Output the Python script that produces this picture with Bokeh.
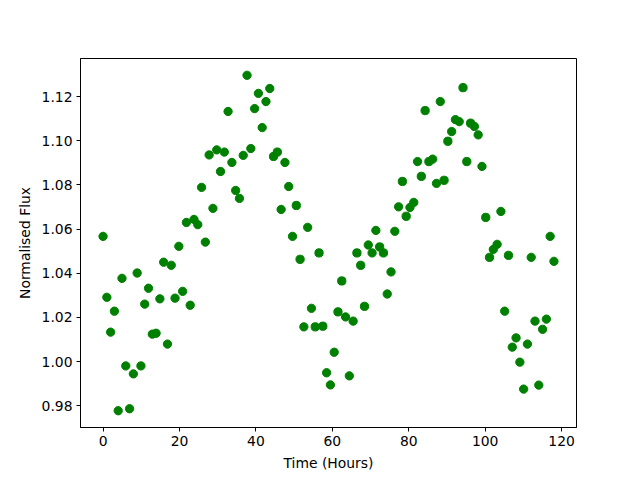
import numpy as np
from bokeh.plotting import figure
from bokeh.models import Range1d, FixedTicker, NumeralTickFormatter, ColumnDataSource
from bokeh.embed import file_html
from bokeh.resources import INLINE

# Time samples (hours): 120 evenly spaced observations from 0 to 118 h
hours = np.linspace(0, 118, 120)

flux = [
    1.0567, 1.0291, 1.0133, 1.0228, 0.9777, 1.0377, 0.9980, 0.9786, 0.9944, 1.0401,
    0.9980, 1.0260, 1.0332, 1.0124, 1.0128, 1.0284, 1.0450, 1.0079, 1.0436, 1.0287,
    1.0522, 1.0318, 1.0630, 1.0255, 1.0644, 1.0620, 1.0789, 1.0541, 1.0936, 1.0694,
    1.0959, 1.0861, 1.0949, 1.1133, 1.0902, 1.0775, 1.0739, 1.0934, 1.1297, 1.0965,
    1.1146, 1.1215, 1.1060, 1.1178, 1.1237, 1.0929, 1.0949, 1.0689, 1.0902, 1.0793,
    1.0567, 1.0707, 1.0463, 1.0157, 1.0608, 1.0241, 1.0157, 1.0492, 1.0160, 0.9949,
    0.9894, 1.0042, 1.0225, 1.0365, 1.0202, 0.9935, 1.0183, 1.0492, 1.0436, 1.0250,
    1.0528, 1.0492, 1.0594, 1.0519, 1.0492, 1.0306, 1.0406, 1.0590, 1.0701, 1.0816,
    1.0658, 1.0698, 1.0721, 1.0906, 1.0839, 1.1137, 1.0906, 1.0917, 1.0807, 1.1178,
    1.0821, 1.0998, 1.1042, 1.1096, 1.1087, 1.1241, 1.0906, 1.1080, 1.1065, 1.1027,
    1.0884, 1.0653, 1.0472, 1.0508, 1.0531, 1.0680, 1.0228, 1.0481, 1.0065, 1.0107,
    0.9997, 0.9875, 1.0079, 1.0472, 1.0183, 0.9893, 1.0146, 1.0192, 1.0567, 1.0454,
]

x_ticks = [0, 20, 40, 60, 80, 100, 120]
y_ticks = [0.98, 1.00, 1.02, 1.04, 1.06, 1.08, 1.10, 1.12]
x_label = "Time (Hours)"
y_label = "Normalised Flux"

src = ColumnDataSource(dict(t=list(hours), f=flux))

xmin, xmax = float(min(hours)), float(max(hours))
ymin, ymax = min(flux), max(flux)
xm = 0.05 * (xmax - xmin)
ym = 0.05 * (ymax - ymin)

p = figure(
    frame_width=496, frame_height=369,
    min_border_left=80, min_border_top=58, min_border_right=56, min_border_bottom=45,
    output_backend="svg", toolbar_location=None,
    x_range=Range1d(xmin - xm, xmax + xm), y_range=Range1d(ymin - ym, ymax + ym),
)

p.scatter("t", "f", source=src, size=8.3, fill_color="#008000", line_color="#008000")

p.xgrid.visible = False
p.ygrid.visible = False
p.outline_line_color = "black"
p.outline_line_width = 1
p.outline_line_alpha = 1.0
p.background_fill_color = "white"
p.border_fill_color = "white"

p.xaxis.ticker = FixedTicker(ticks=x_ticks)
p.yaxis.ticker = FixedTicker(ticks=y_ticks)
p.yaxis.formatter = NumeralTickFormatter(format="0.00")
p.xaxis.axis_label = x_label
p.yaxis.axis_label = y_label

for ax in (p.xaxis, p.yaxis):
    ax.major_tick_out = 4
    ax.major_tick_in = 0
    ax.minor_tick_out = 0
    ax.minor_tick_in = 0
    ax.major_tick_line_color = "black"
    ax.axis_line_color = "black"
    ax.major_label_text_font = "DejaVu Sans"
    ax.major_label_text_font_size = "13.9px"
    ax.major_label_text_color = "black"
    ax.axis_label_text_font = "DejaVu Sans"
    ax.axis_label_text_font_size = "13.9px"
    ax.axis_label_text_font_style = "normal"
    ax.axis_label_text_color = "black"
    ax.major_label_standoff = 4
    ax.axis_label_standoff = 6

open("out.html", "w").write(file_html(p, INLINE))
